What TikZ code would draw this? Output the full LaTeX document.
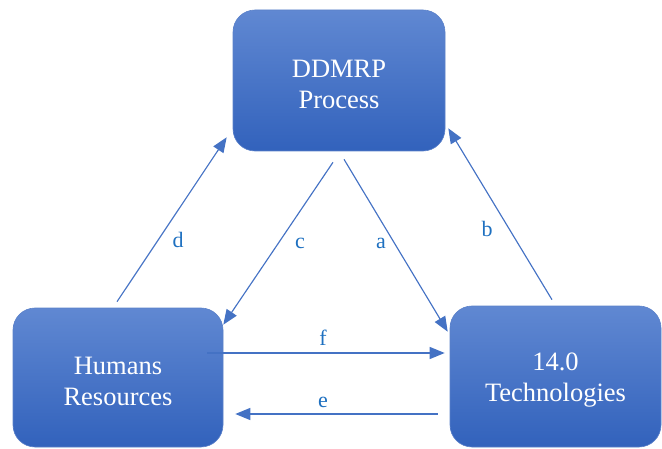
\documentclass[tikz,border=0pt]{standalone}
\usepackage{fontspec}
\setmainfont{Liberation Serif}
\usetikzlibrary{arrows.meta}
\definecolor{boxtop}{RGB}{96,136,210}
\definecolor{boxbot}{RGB}{50,98,188}
\definecolor{arrowc}{RGB}{68,114,196}
\definecolor{labelc}{RGB}{30,112,192}
\tikzset{
  procbox/.style={rounded corners=22pt, top color=boxtop, bottom color=boxbot,
    draw=boxbot!80!white, line width=0.6pt, inner sep=0pt},
  proctext/.style={text=white, align=center, font=\fontsize{26.5}{31}\selectfont, yshift=-4pt},
  conn/.style={draw=arrowc, line width=1.15pt, -{Triangle[length=15pt,width=12pt]}},
  lbl/.style={text=labelc, font=\fontsize{22}{26}\selectfont}
}
\begin{document}
\begin{tikzpicture}[x=1pt,y=1pt]
\useasboundingbox (0,0) rectangle (662,448);
\node[procbox, minimum width=212pt, minimum height=141pt,
  label={[proctext]center:{DDMRP\\Process}}] (top) at (339,367.5) {};
\node[procbox, minimum width=210pt, minimum height=139pt,
  label={[proctext]center:{Humans\\Resources}}] (hr) at (118,70.5) {};
\node[procbox, minimum width=211pt, minimum height=141pt,
  label={[proctext]center:{14.0\\Technologies}}] (tech) at (555.5,71.5) {};
% d
\draw[conn] ([shift={(-1,6)}]hr.north) -- ([shift={(-6,14)}]top.south west);
% c
\draw[conn] ([shift={(-6,-11)}]top.south) -- ([shift={(0,-17)}]hr.north east);
% a
\draw[conn] ([shift={(5,-8)}]top.south) -- ([shift={(-2,-26)}]tech.north west);
% b
\draw[conn] ([shift={(-3.5,6)}]tech.north) -- ([shift={(3,23)}]top.south east);
% f
\draw[conn] ([shift={(-16,24.5)}]hr.east) -- ([shift={(-5,23.5)}]tech.west);
% e
\draw[conn] ([shift={(-12,-37.5)}]tech.west) -- ([shift={(12,-36.5)}]hr.east);
\node[lbl] (ld) at (178,208) {d};
\node[lbl] (lc) at (300,205) {c};
\node[lbl] (la) at (381,205) {a};
\node[lbl] (lb) at (487,219) {b};
\node[lbl] (lf) at (323,110) {f};
\node[lbl] (le) at (323,46) {e};
\end{tikzpicture}
\end{document}
